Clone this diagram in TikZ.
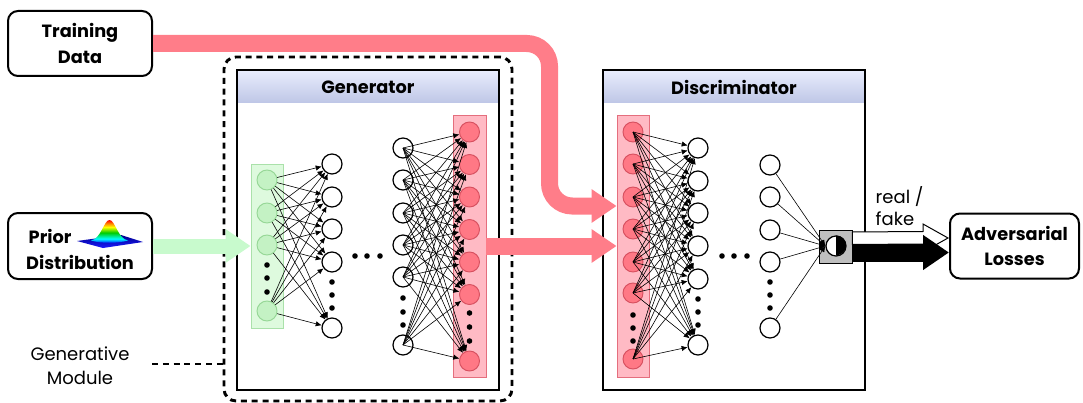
\documentclass[tikz,border=0pt]{standalone}
\usepackage{fontspec}
\setmainfont{Poppins}
\usetikzlibrary{arrows.meta,calc}
\definecolor{hdrtop}{RGB}{233,237,253}
\definecolor{hdrbot}{RGB}{190,198,230}
\definecolor{grfill}{RGB}{222,250,222}
\definecolor{grline}{RGB}{170,225,170}
\definecolor{grnode}{RGB}{196,242,196}
\definecolor{grnodeline}{RGB}{150,215,150}
\definecolor{rdfill}{RGB}{255,186,196}
\definecolor{rdline}{RGB}{228,110,125}
\definecolor{rdnode}{RGB}{255,120,133}
\definecolor{rdnodeline}{RGB}{215,80,95}
\definecolor{redarr}{RGB}{255,125,137}
\definecolor{grnarr}{RGB}{200,250,205}
\pgfdeclareverticalshading{jetshade}{100bp}{color(0bp)=(blue!80!black); color(25bp)=(blue); color(35bp)=(cyan); color(48bp)=(green!80!black); color(60bp)=(yellow); color(68bp)=(orange); color(75bp)=(red); color(100bp)=(red)}
\tikzset{
  neuron/.style={circle, draw=black, line width=0.9pt, fill=white, minimum size=15pt, inner sep=0pt},
  gneuron/.style={neuron, fill=grnode, draw=grnodeline, line width=0.7pt},
  rneuron/.style={neuron, fill=rdnode, draw=rdnodeline, line width=0.7pt},
  ndot/.style={circle, fill=black, minimum size=4.2pt, inner sep=0pt},
  edge/.style={line width=0.45pt, -{Latex[length=4.5pt,width=4pt]}},
  iobox/.style={draw, rounded corners=7.5pt, line width=1.5pt, fill=white, inner sep=0pt},
  lbl/.style={font=\bfseries\fontsize{13.3}{18.8}\selectfont, align=center},
  nlbl/.style={font=\fontsize{13.5}{18}\selectfont, align=center},
  netbox/.style={draw, line width=1.8pt, inner sep=0pt, minimum width=262*0.75pt, minimum height=320*0.75pt},
  gmdash/.style={line width=2.2pt, dash pattern=on 4.5pt off 3.6pt},
  redarrow/.style={draw=redarr, line width=12.75pt, -{Triangle[length=18.75pt,width=24pt]}},
  grnarrow/.style={draw=grnarr, line width=11.25pt, -{Triangle[length=18.75pt,width=24pt]}}
}
\begin{document}
\begin{tikzpicture}[x=0.75pt,y=-0.75pt]
\useasboundingbox (0,0) rectangle (1083,403);
% generative module
\node[gmdash, draw, rounded corners=9pt, minimum width=288*0.75pt, minimum height=344*0.75pt, inner sep=0pt] (gmod) at (368,229) {};
\node[nlbl] (gml) at (80,366) {Generative\\Module};
\coordinate (gmstart) at (152,364);
\draw[gmdash] (gmstart) -- (gmstart -| gmod.west);
% input boxes
\node[iobox, minimum width=144*0.75pt, minimum height=65*0.75pt] (td) at (80,43.5) {};
\node[lbl] at (td) {Training\\Data};
\node[iobox, minimum width=144*0.75pt, minimum height=66*0.75pt] (pd) at (80,246) {};
\node[lbl, anchor=west] (prior) at (24,236) {Prior};
\node[lbl] (distr) at (80,262) {Distribution};
% gaussian icon
\shade[top color=blue!55!black, bottom color=blue!90] (77,241) -- (121,235) -- (143,242) -- (103,248) -- cycle;
\shade[shading=jetshade] (91,240.5) .. controls (101,239) and (104,220) .. (109.5,220) .. controls (115,220) and (118,239) .. (128,240.5) .. controls (118,243.5) and (100,243.5) .. cycle;
\node[iobox, minimum width=129*0.75pt, minimum height=65*0.75pt] (adv) at (1014.5,246) {};
\node[lbl] at (adv) {Adversarial\\Losses};
% generator
\shade[top color=hdrtop, bottom color=hdrbot] (237,70) rectangle (499,103);
\node[netbox] (gen) at (368,230) {};
\node[lbl] at (368,87) {Generator};
\node[draw=grline, fill=grfill, line width=0.6pt, minimum width=32*0.75pt, minimum height=164*0.75pt, inner sep=0pt] (grect) at (267,246) {};
\node[draw=rdline, fill=rdfill, line width=0.6pt, minimum width=33*0.75pt, minimum height=262*0.75pt, inner sep=0pt] (orect) at (469.5,246) {};
\foreach \y [count=\i] in {180,213,245,311} \node[gneuron] (g\i) at (267,\y) {};
\foreach \y [count=\i] in {164,197,229,262,328} \node[neuron] (a\i) at (332,\y) {};
\foreach \y [count=\i] in {148,180,213,245,277,345} \node[neuron] (b\i) at (403,\y) {};
\foreach \y [count=\i] in {132,164.5,197,229.5,262,294.5,361} \node[rneuron] (o\i) at (469.5,\y) {};
\foreach \i in {1,...,4} \foreach \j in {1,...,5} \draw[edge] (g\i) -- (a\j);
\foreach \i in {1,...,6} \foreach \j in {1,...,7} \draw[edge] (b\i.center) -- (o\j);
\foreach \y in {265,278,292} \node[ndot] at (267,\y) {};
\foreach \y in {282,295,308} \node[ndot] at (332,\y) {};
\foreach \x in {355,367,380} \node[ndot] at (\x,256) {};
\foreach \y in {298,312,325} \node[ndot] at (403,\y) {};
\foreach \y in {313,327,341} \node[ndot] at (469.5,\y) {};
% discriminator
\shade[top color=hdrtop, bottom color=hdrbot] (603,70) rectangle (865,103);
\node[netbox] (dis) at (734,230) {};
\node[lbl] at (734,87) {Discriminator};
\node[draw=rdline, fill=rdfill, line width=0.6pt, minimum width=32*0.75pt, minimum height=262*0.75pt, inner sep=0pt] (drect) at (633,246) {};
\foreach \y [count=\i] in {132,164,197,229,262,293,359} \node[rneuron] (p\i) at (633,\y) {};
\foreach \y [count=\i] in {148,181,213,246,279,345} \node[neuron] (q\i) at (698,\y) {};
\foreach \y [count=\i] in {165,197,230,262,328} \node[neuron] (r\i) at (770,\y) {};
\node[draw=black, fill=black!25, line width=0.7pt, minimum size=33*0.75pt, inner sep=0pt] (sq) at (835.5,246.5) {};
\node[circle, draw=black, fill=white, line width=0.9pt, minimum size=15pt, inner sep=0pt] (oc) at (836,246) {};
\fill[black] (oc.north) arc[start angle=90, end angle=-90, radius=7.5pt] -- cycle;
\foreach \i in {1,...,7} \foreach \j in {1,...,6} \draw[edge] (p\i.center) -- (q\j);
\foreach \i in {1,...,5} \draw[edge] (r\i) -- (oc.west);
\foreach \y in {315,328,341} \node[ndot] at (633,\y) {};
\foreach \y in {299,312,325} \node[ndot] at (698,\y) {};
\foreach \x in {722,734,747} \node[ndot] at (\x,256) {};
\foreach \y in {282,295,308} \node[ndot] at (770,\y) {};
% thick arrows
\draw[grnarrow] (pd.east) -- (grect.west);
\draw[redarrow, rounded corners=17pt] (td.east) -- (td.east -| 549.5,0) -- (549.5,206) -- (drect.west |- 0,206);
\draw[redarrow] (orect.east) -- (drect.west);
% output arrows
\draw[fill=white, line width=0.75pt] ($(sq.east)+(0,-14.5)$) -- ($(adv.west)+(-26,-14.5)$) -- ($(adv.west)+(-26,-22)$) -- ($(adv.west)+(-1,-8)$) -- ($(adv.west)+(-26,6)$) -- ($(adv.west)+(-26,-2)$) -- ($(sq.east)+(0,-2)$) -- cycle;
\draw[line width=13.5pt, -{Triangle[length=19.5pt,width=25pt]}] ($(sq.east)+(0,6)$) -- ($(adv.west)+(0,6.5)$);
\node[nlbl, anchor=west, align=left, font=\fontsize{13.5}{16.5}\selectfont] (rf) at (871,206) {real /\\fake};
\end{tikzpicture}
\end{document}
